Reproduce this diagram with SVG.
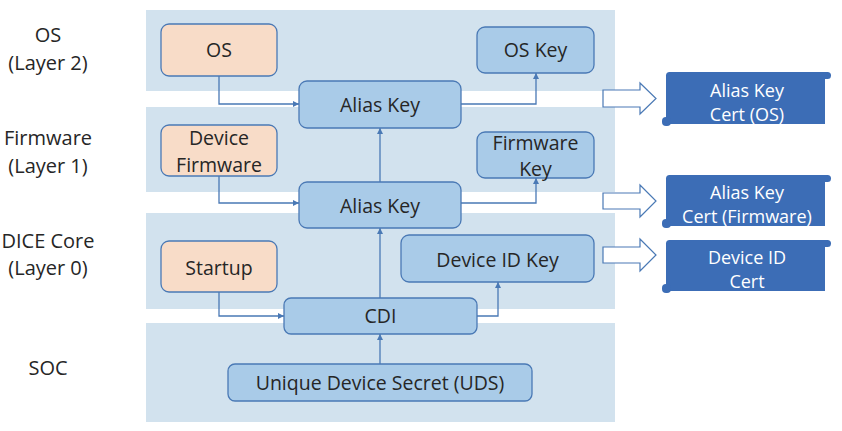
<svg xmlns="http://www.w3.org/2000/svg" width="842" height="431" viewBox="0 0 842 431">
<style>
text{font-family:"Open Sans","Noto Sans",sans-serif;fill:#262626;text-anchor:middle}
.lbl{font-size:20px}
.nt{font-size:19.5px}
.st{font-size:18px;fill:#ffffff}
.band{fill:#d2e2ee}
.nb{fill:#a9cbe8;stroke:#4a79b5;stroke-width:1.3}
.no{fill:#f8dcc8;stroke:#4a79b5;stroke-width:1.3}
.con{fill:none;stroke:#4a79b5;stroke-width:1.3;marker-end:url(#ah)}
.blk{fill:#ffffff;stroke:#4a79b5;stroke-width:1.2}
.scroll{fill:#3c6db6}
</style>
<defs>
<marker id="ah" viewBox="0 0 10 10" refX="10" refY="5" markerWidth="6" markerHeight="6" markerUnits="userSpaceOnUse" orient="auto"><path d="M0,0 L10,5 L0,10 z" fill="#4a79b5"/></marker>
</defs>
<rect width="842" height="431" fill="#ffffff"/>
<g id="bands">
<rect class="band" x="146" y="10" width="469" height="81"/>
<rect class="band" x="146" y="107" width="469" height="85"/>
<rect class="band" x="146" y="213" width="469" height="96"/>
<rect class="band" x="146" y="323" width="469" height="99"/>
</g>
<g id="layer-labels">
<text class="lbl" x="48" y="42">OS</text>
<text class="lbl" x="48" y="70">(Layer 2)</text>
<text class="lbl" x="48" y="145">Firmware</text>
<text class="lbl" x="48" y="173">(Layer 1)</text>
<text class="lbl" x="48" y="248">DICE Core</text>
<text class="lbl" x="48" y="275">(Layer 0)</text>
<text class="lbl" x="48" y="375">SOC</text>
</g>
<g id="connectors">
<path class="con" d="M219,76 V104 H299"/>
<path class="con" d="M461,104 H536 V73"/>
<path class="con" d="M380,182 V128"/>
<path class="con" d="M219,176 V203 H299"/>
<path class="con" d="M461,203 H536 V178"/>
<path class="con" d="M380,298 V228"/>
<path class="con" d="M219,292 V316 H284"/>
<path class="con" d="M477,316 H498 V282"/>
<path class="con" d="M380,364 V334"/>
<polygon class="blk" points="603,90 640,90 640,83 656,98.5 640,114 640,107 603,107"/>
<polygon class="blk" points="603,193 640,193 640,185 656,201 640,217 640,209 603,209"/>
<polygon class="blk" points="603,247 640,247 640,239 656,255 640,271 640,263 603,263"/>
</g>
<g id="node-os"><rect class="no" x="161" y="24" width="116" height="52" rx="8"/><text class="nt" x="219" y="57">OS</text></g>
<g id="node-oskey"><rect class="nb" x="477" y="27" width="117" height="46" rx="8"/><text class="nt" x="535.5" y="57">OS Key</text></g>
<g id="node-alias2"><rect class="nb" x="299" y="81" width="162" height="47" rx="8"/><text class="nt" x="380" y="112">Alias Key</text></g>
<g id="node-devfw"><rect class="no" x="161" y="125" width="116" height="51" rx="8"/><text class="nt" x="219" y="145">Device</text><text class="nt" x="219" y="171.5">Firmware</text></g>
<g id="node-fwkey"><rect class="nb" x="477" y="132" width="117" height="46" rx="8"/><text class="nt" x="535.5" y="150">Firmware</text><text class="nt" x="535.5" y="176">Key</text></g>
<g id="node-alias1"><rect class="nb" x="299" y="182" width="162" height="46" rx="8"/><text class="nt" x="380" y="213">Alias Key</text></g>
<g id="node-startup"><rect class="no" x="161" y="241" width="116" height="51" rx="8"/><text class="nt" x="219" y="275">Startup</text></g>
<g id="node-devidkey"><rect class="nb" x="401" y="235" width="193" height="47" rx="8"/><text class="nt" x="497.5" y="267">Device ID Key</text></g>
<g id="node-cdi"><rect class="nb" x="284" y="298" width="193" height="36" rx="7"/><text class="nt" x="380.5" y="323">CDI</text></g>
<g id="node-uds"><rect class="nb" x="228" y="364" width="304" height="37" rx="7"/><text class="nt" x="380" y="390">Unique Device Secret (UDS)</text></g>
<g id="cert-os">
<rect class="scroll" x="666" y="75" width="159" height="49"/>
<rect class="scroll" x="666" y="72" width="165" height="7" rx="3.5"/>
<rect class="scroll" x="662" y="117" width="9" height="9" rx="4"/>
<text class="st" x="747" y="97">Alias Key</text><text class="st" x="747" y="120.5">Cert (OS)</text>
</g>
<g id="cert-fw">
<rect class="scroll" x="666" y="178" width="159" height="48"/>
<rect class="scroll" x="666" y="175" width="165" height="7" rx="3.5"/>
<rect class="scroll" x="662" y="219" width="9" height="9" rx="4"/>
<text class="st" x="747" y="199">Alias Key</text><text class="st" x="747" y="223">Cert (Firmware)</text>
</g>
<g id="cert-devid">
<rect class="scroll" x="666" y="243" width="159" height="48"/>
<rect class="scroll" x="666" y="240" width="165" height="7" rx="3.5"/>
<rect class="scroll" x="662" y="284" width="9" height="9" rx="4"/>
<text class="st" x="747" y="264">Device ID</text><text class="st" x="747" y="288">Cert</text>
</g>
</svg>
